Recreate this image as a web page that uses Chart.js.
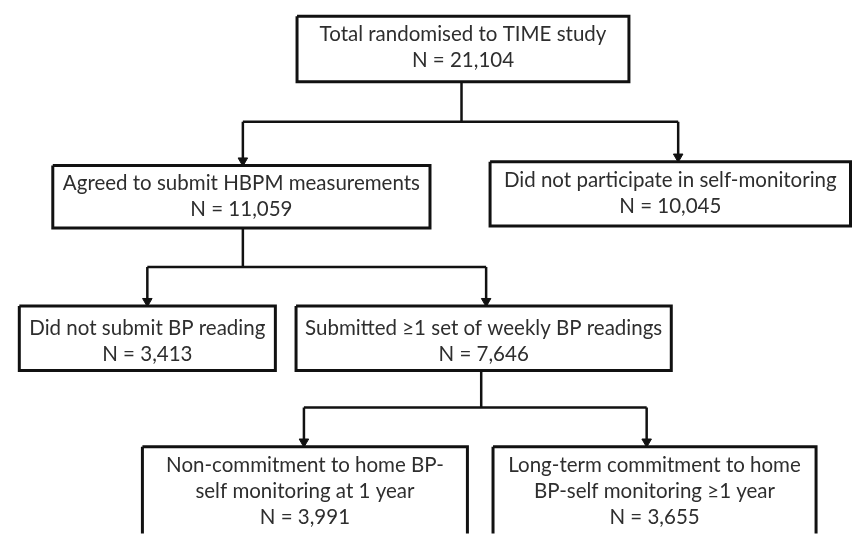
<!DOCTYPE html>
<html>
<head>
<meta charset="utf-8">
<script src="https://cdn.jsdelivr.net/npm/chart.js@4.4.1/dist/chart.umd.min.js"></script>
<style>
  html, body { margin: 0; padding: 0; background: #fff; }
  #wrap { width: 859px; height: 540px; }
</style>
</head>
<body>
<div id="wrap"><canvas id="flow"></canvas></div>
<script>
// stages of the flow and how many people in each
const stageLabels = [
  ['Total randomised to TIME study'],
  ['Agreed to submit HBPM measurements'],
  ['Did not participate in self-monitoring'],
  ['Did not submit BP reading'],
  ['Submitted \u22651 set of weekly BP readings'],
  ['Non-commitment to home BP-', 'self monitoring at 1 year'],
  ['Long-term commitment to home', 'BP-self monitoring \u22651 year']
];
const stageCounts = [21104, 11059, 10045, 3413, 7646, 3991, 3655];

// which stage splits into which
const splits = [
  { from: 0, to: [1, 2] },
  { from: 1, to: [3, 4] },
  { from: 4, to: [5, 6] }
];

// layout (in pixel units of the 859x540 page)
const boxes = [
  [295, 10, 632, 77],
  [47, 163, 430, 227],
  [491, 159, 857, 225],
  [13, 307, 273, 373],
  [294, 307, 675, 373],
  [138, 451, 468, 560],
  [494, 451, 822, 560]
];
const stemX = { 0: 462, 1: 240, 4: 482 };
const barY = { 0: 118, 1: 267, 4: 411 };
const arrowX = { 1: 240, 2: 682, 3: 143, 4: 487, 5: 302, 6: 650 };
const lineY = [29, 181, 178, 330, 330, 470, 470];

function formatN(n) {
  return 'N = ' + n.toLocaleString('en-US');
}

function boxDataset(b) {
  return {
    data: [
      { x: b[0], y: b[1] }, { x: b[2], y: b[1] },
      { x: b[2], y: b[3] }, { x: b[0], y: b[3] }, { x: b[0], y: b[1] }
    ],
    showLine: true,
    borderColor: '#111',
    borderWidth: 3,
    borderJoinStyle: 'miter',
    pointRadius: 0,
    fill: false,
    tension: 0
  };
}

function lineDataset(points) {
  return {
    data: points,
    showLine: true,
    borderColor: '#111',
    borderWidth: 2.5,
    pointRadius: 0,
    fill: false,
    tension: 0
  };
}

function buildDatasets() {
  const sets = [];
  const heads = [];
  splits.forEach(s => {
    const parent = boxes[s.from];
    const sx = stemX[s.from];
    const by = barY[s.from];
    sets.push(lineDataset([{ x: sx, y: parent[3] }, { x: sx, y: by }]));
    const xs = s.to.map(i => arrowX[i]);
    sets.push(lineDataset([{ x: Math.min(...xs), y: by }, { x: Math.max(...xs), y: by }]));
    s.to.forEach(i => {
      const top = boxes[i][1];
      sets.push(lineDataset([{ x: arrowX[i], y: by }, { x: arrowX[i], y: top - 5 }]));
      heads.push({ x: arrowX[i], y: top - 5 });
    });
  });
  boxes.forEach(b => sets.push(boxDataset(b)));
  sets.push({
    data: heads,
    showLine: false,
    pointStyle: 'triangle',
    rotation: 180,
    pointRadius: 5.5,
    pointBackgroundColor: '#111',
    pointBorderColor: '#111',
    pointBorderWidth: 1
  });
  return sets;
}

const textPlugin = {
  id: 'boxText',
  afterDatasetsDraw(chart) {
    const ctx = chart.ctx;
    const xs = chart.scales.x;
    const ys = chart.scales.y;
    ctx.save();
    ctx.fillStyle = '#2e2e2e';
    ctx.font = '20.5px Lato, "Open Sans", sans-serif';
    ctx.textAlign = 'center';
    ctx.textBaseline = 'middle';
    stageLabels.forEach((lines, i) => {
      const b = boxes[i];
      const cx = xs.getPixelForValue((b[0] + b[2]) / 2);
      const all = lines.concat([formatN(stageCounts[i])]);
      all.forEach((t, k) => {
        const y = ys.getPixelForValue(lineY[i] + k * 26.5);
        ctx.fillText(t, cx, y);
      });
    });
    ctx.restore();
  }
};

new Chart(document.getElementById('flow'), {
  type: 'scatter',
  data: { datasets: buildDatasets() },
  options: {
    responsive: true,
    maintainAspectRatio: false,
    animation: false,
    layout: { padding: 0 },
    plugins: { legend: { display: false }, tooltip: { enabled: false } },
    scales: {
      x: { type: 'linear', min: 0, max: 859, display: false },
      y: { type: 'linear', min: 0, max: 540, reverse: true, display: false }
    }
  },
  plugins: [textPlugin]
});
</script>
</body>
</html>
